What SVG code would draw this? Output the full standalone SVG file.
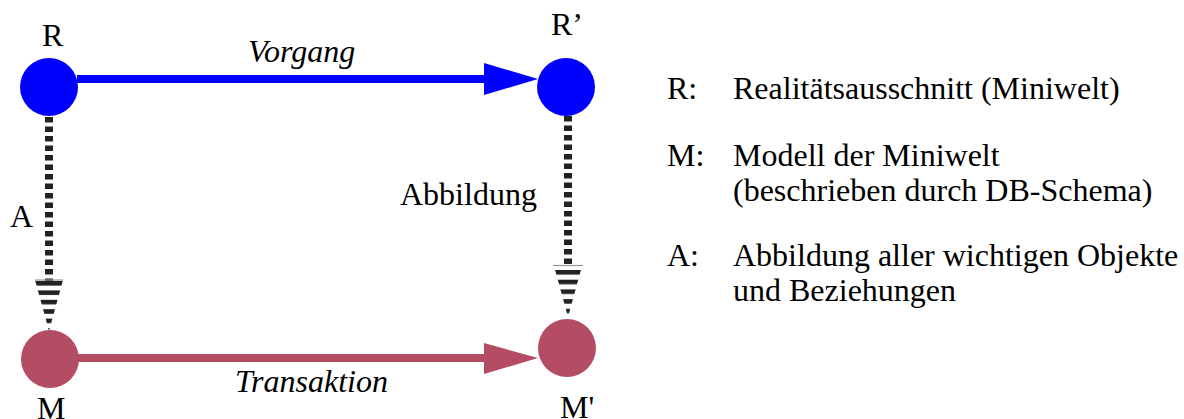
<svg xmlns="http://www.w3.org/2000/svg" width="1184" height="419" viewBox="0 0 1184 419">
<style>
text{font-family:"Liberation Serif","Times New Roman",serif;font-size:32px;fill:#000}
.it{font-style:italic}
.dash{fill:none;stroke:#222;stroke-width:8;stroke-dasharray:5.5 4}
.base{stroke:#999;stroke-width:1.2}
</style>
<defs>
<pattern id="stripeL" patternUnits="userSpaceOnUse" x="0" y="281" width="20" height="9.4">
<rect x="0" y="0" width="20" height="4.6" fill="#222"/>
</pattern>
<pattern id="stripeR" patternUnits="userSpaceOnUse" x="0" y="270" width="20" height="9.7">
<rect x="0" y="0" width="20" height="4.6" fill="#222"/>
</pattern>
</defs>
<rect width="1184" height="419" fill="#fff"/>
<g id="connectors">
<g id="vorgang">
<line x1="77" y1="79" x2="488" y2="79" stroke="#0000ff" stroke-width="8"/>
<polygon points="484,63 538,79 484,95" fill="#0000ff"/>
</g>
<g id="transaktion">
<line x1="78" y1="358" x2="488" y2="358" stroke="#b44c64" stroke-width="8"/>
<polygon points="484,343 538,358 484,374" fill="#b44c64"/>
</g>
<g id="abbildung-left">
<line class="dash" x1="49" y1="117" x2="49" y2="281"/>
<polygon points="35,280 63,280 49,331" fill="url(#stripeL)"/>
<line class="base" x1="35" y1="280" x2="63" y2="280"/>
</g>
<g id="abbildung-right">
<line class="dash" x1="568" y1="116" x2="568" y2="266"/>
<polygon points="554,266 582,266 568,317" fill="url(#stripeR)"/>
<line class="base" x1="553" y1="265.5" x2="583" y2="265.5"/>
</g>
</g>
<g id="node-R">
<circle cx="49" cy="87" r="29" fill="#0000ff"/>
<text x="42" y="46">R</text>
</g>
<g id="node-R2">
<circle cx="566" cy="87" r="29" fill="#0000ff"/>
<text x="551" y="35">R’</text>
</g>
<g id="node-M">
<circle cx="50" cy="359" r="29" fill="#b44c64"/>
<text x="37" y="419">M</text>
</g>
<g id="node-M2">
<circle cx="567" cy="348" r="29" fill="#b44c64"/>
<text x="560" y="418">M'</text>
</g>
<g id="labels">
<text class="it" x="248" y="62">Vorgang</text>
<text class="it" x="235" y="392">Transaktion</text>
<text x="10" y="227">A</text>
<text x="400" y="205">Abbildung</text>
</g>
<g id="legend">
<text x="667" y="99">R:</text>
<text x="733" y="99">Realitätsausschnitt (Miniwelt)</text>
<text x="667" y="166">M:</text>
<text x="733" y="166">Modell der Miniwelt</text>
<text x="733" y="201">(beschrieben durch DB-Schema)</text>
<text x="667" y="266">A:</text>
<text x="733" y="266">Abbildung aller wichtigen Objekte</text>
<text x="733" y="301">und Beziehungen</text>
</g>
</svg>
